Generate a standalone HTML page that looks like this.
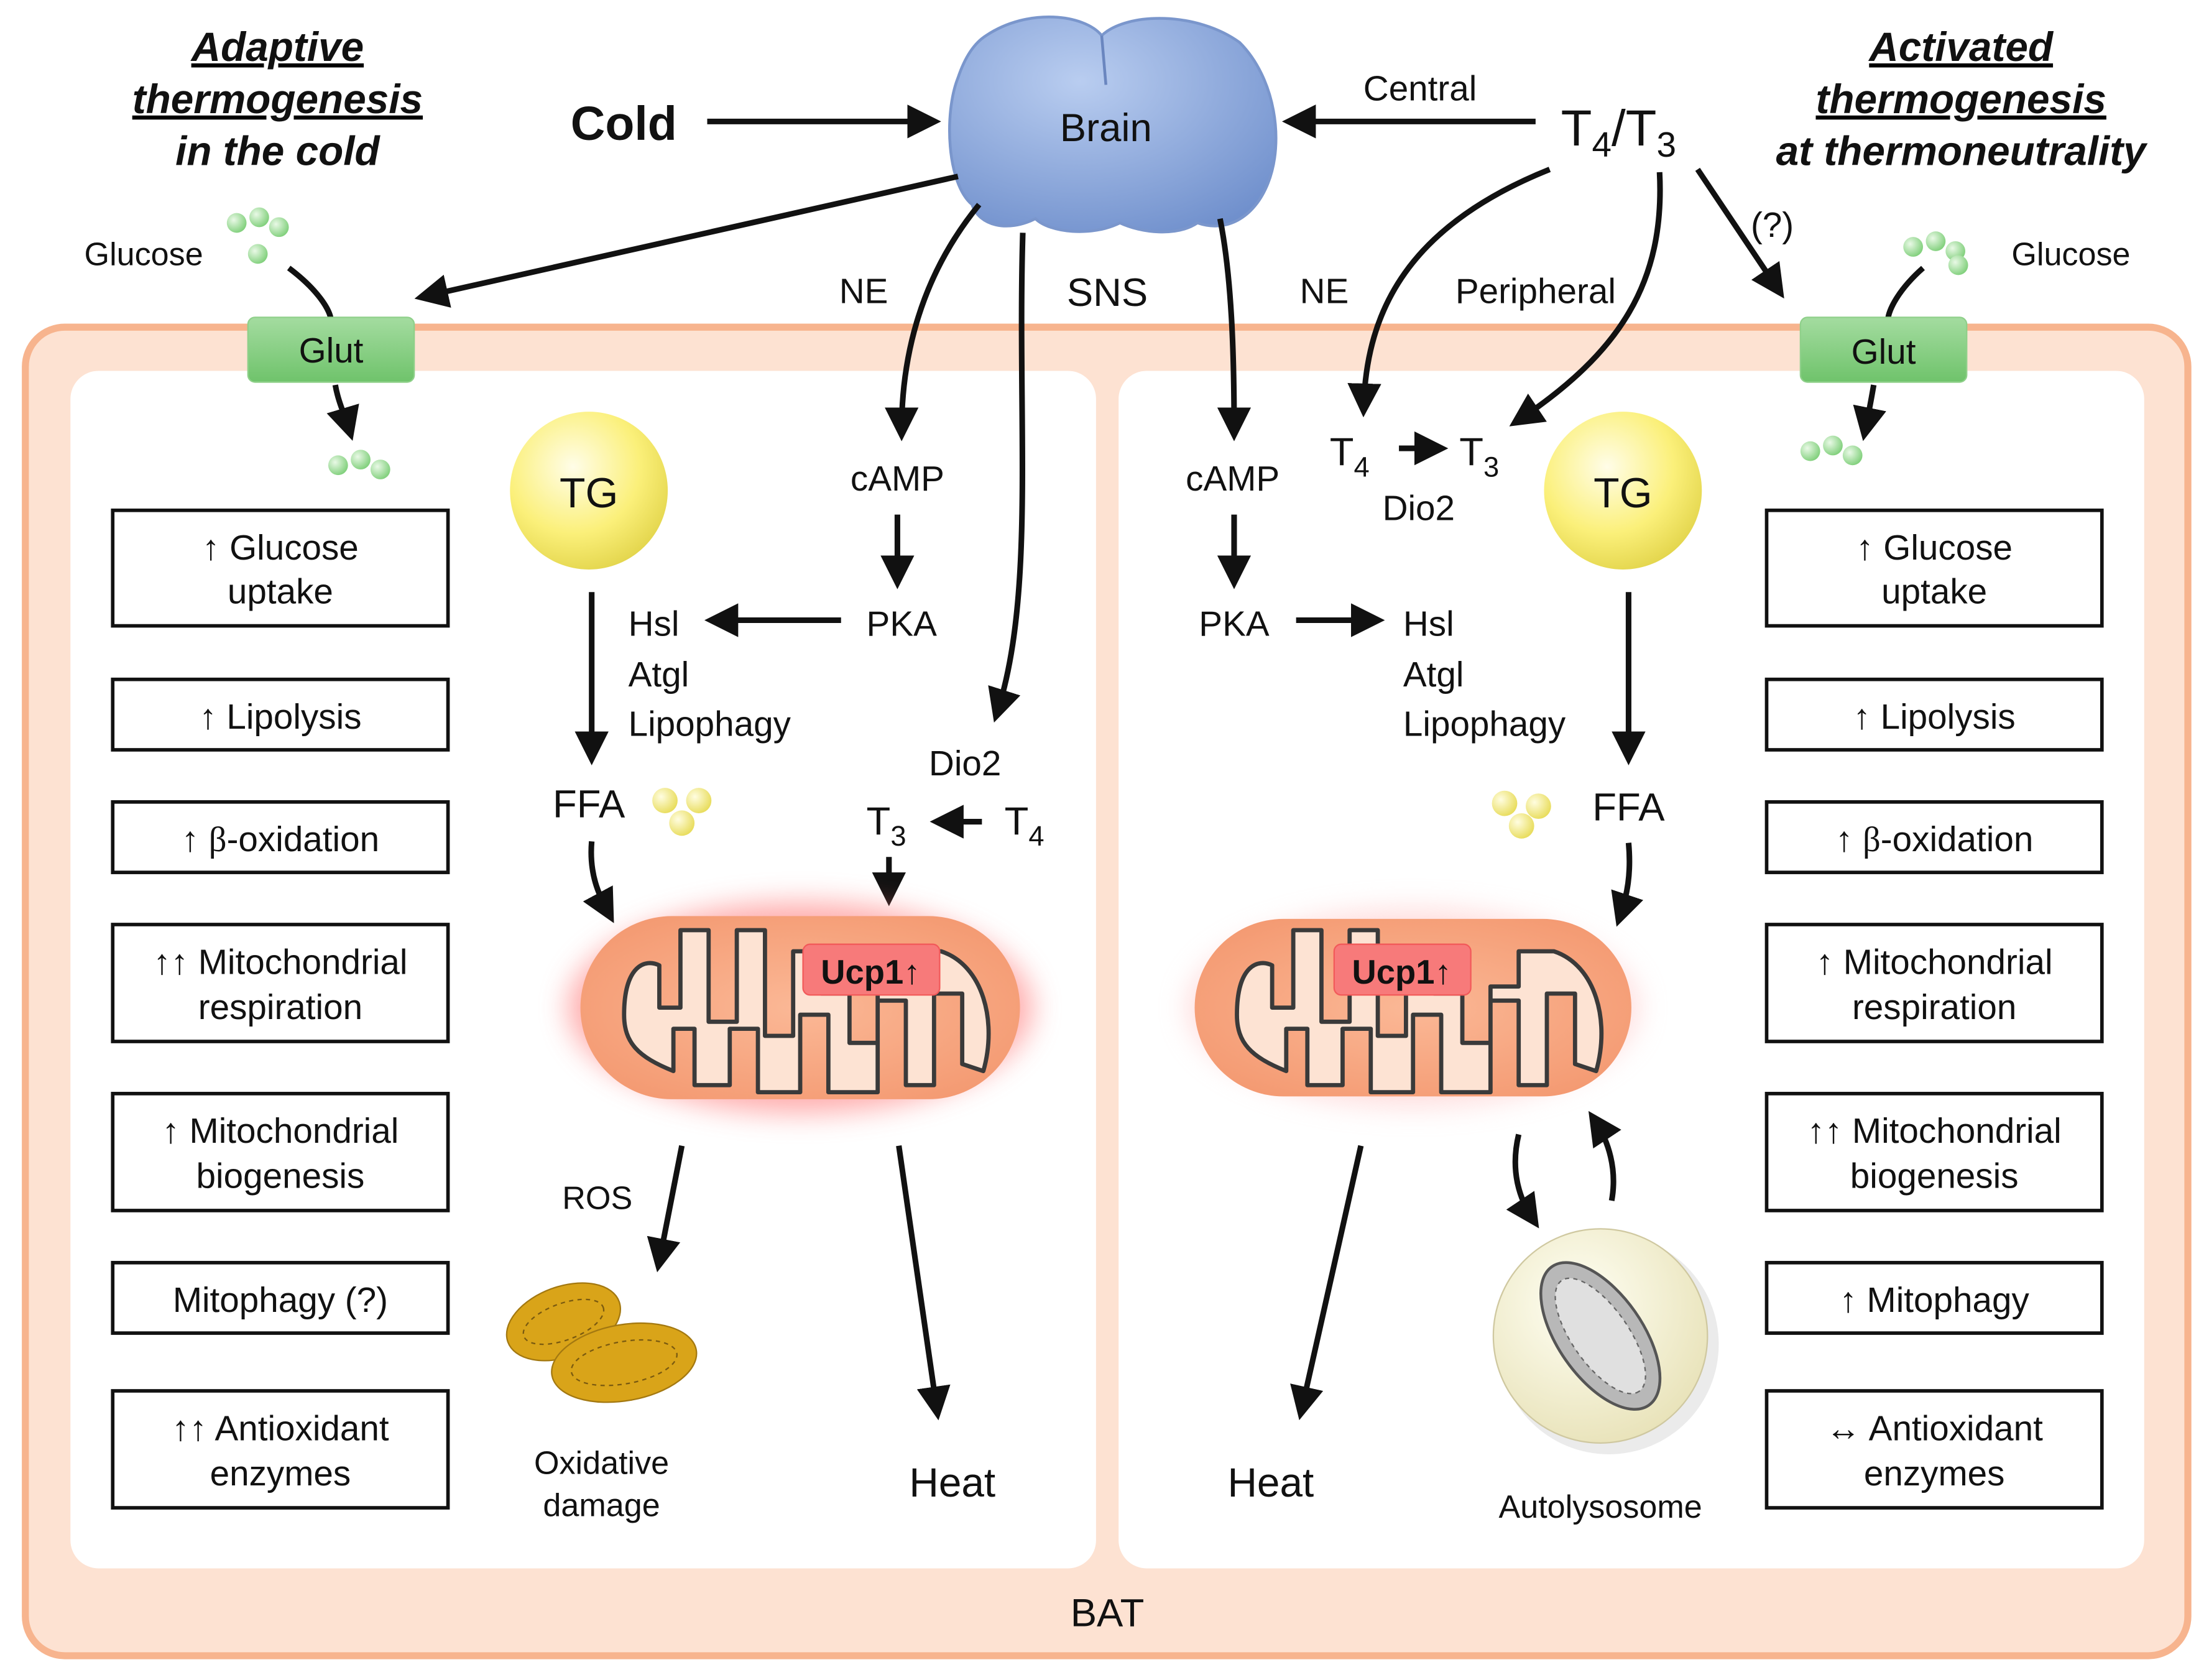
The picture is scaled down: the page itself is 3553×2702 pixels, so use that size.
<!DOCTYPE html>
<html><head><meta charset="utf-8">
<style>
html,body{margin:0;padding:0;background:#fff;}
svg{display:block;}
text{font-family:"Liberation Sans",sans-serif;fill:#111;}
</style></head>
<body>
<svg width="3553" height="2702" viewBox="0 0 1568 1192" xmlns="http://www.w3.org/2000/svg">
<defs>
<marker id="ah" markerWidth="6" markerHeight="6" refX="4" refY="3" orient="auto" markerUnits="strokeWidth">
<path d="M0,0 L6,3 L0,6 Z" fill="#111"/></marker>
<radialGradient id="tg" cx="0.4" cy="0.35" r="0.7"><stop offset="0" stop-color="#fffde8"/><stop offset="0.6" stop-color="#fbf07a"/><stop offset="1" stop-color="#e2d44a"/></radialGradient>
<radialGradient id="brain" cx="0.4" cy="0.3" r="0.8"><stop offset="0" stop-color="#b9cdf0"/><stop offset="1" stop-color="#6f8fcc"/></radialGradient>
<linearGradient id="glut" x1="0" y1="0" x2="0" y2="1"><stop offset="0" stop-color="#a4dca0"/><stop offset="1" stop-color="#6fc36b"/></linearGradient>
<radialGradient id="mito" cx="0.5" cy="0.5" r="0.6"><stop offset="0" stop-color="#fbb896"/><stop offset="1" stop-color="#f49a72"/></radialGradient>
<filter id="glow" x="-30%" y="-40%" width="160%" height="180%"><feGaussianBlur stdDeviation="10"/></filter>
<radialGradient id="bead" cx="0.35" cy="0.35" r="0.7"><stop offset="0" stop-color="#e9f9e6"/><stop offset="1" stop-color="#7fcf7a"/></radialGradient>
<radialGradient id="ybead" cx="0.35" cy="0.35" r="0.7"><stop offset="0" stop-color="#fffde0"/><stop offset="1" stop-color="#e8dc5a"/></radialGradient>
<radialGradient id="auto" cx="0.4" cy="0.35" r="0.7"><stop offset="0" stop-color="#fffff4"/><stop offset="1" stop-color="#e8e2b8"/></radialGradient>
<g id="mitoC">
<path d="M-125,5 C-125,-30 -110,-35 -100,-30 L-100,0 L-85,0 L-85,-55 L-65,-55 L-65,10 L-45,10 L-45,-55 L-25,-55 L-25,20 L-5,20 L-5,-40 L15,-40 L15,-10 L35,-10 L35,25 L55,25 L55,-15 L75,-15 L75,-40 L100,-40 C130,-30 140,10 130,45 L115,40 L115,-10 L95,-10 L95,55 L75,55 L75,-5 L55,-5 L55,60 L20,60 L20,5 L0,5 L0,60 L-30,60 L-30,15 L-50,15 L-50,55 L-75,55 L-75,15 L-90,15 L-90,45 C-115,35 -125,25 -125,5 Z" fill="#fde3d3" stroke="#3a3a3a" stroke-width="3" stroke-linejoin="round"/>
</g>
<g id="bead3"><circle cx="0" cy="0" r="7" fill="url(#bead)"/><circle cx="16" cy="-4" r="7" fill="url(#bead)"/><circle cx="30" cy="3" r="7" fill="url(#bead)"/></g>
</defs>

<!-- BAT container -->
<rect x="18" y="232" width="1535" height="943" rx="28" fill="#fde2d2" stroke="#f7b48e" stroke-width="5"/>
<rect x="50" y="263" width="728" height="850" rx="20" fill="#fff"/>
<rect x="794" y="263" width="728" height="850" rx="20" fill="#fff"/>
<text x="786" y="1154" font-size="28" text-anchor="middle">BAT</text>

<!-- titles -->
<g font-weight="bold" font-style="italic" font-size="29" text-anchor="middle" text-decoration="underline">
<text x="197" y="43">Adaptive</text>
<text x="197" y="80">thermogenesis</text>
<text x="1392" y="43">Activated</text>
<text x="1392" y="80">thermogenesis</text>
</g>
<g font-weight="bold" font-style="italic" font-size="29" text-anchor="middle">
<text x="197" y="117">in the cold</text>
<text x="1392" y="117">at thermoneutrality</text>
</g>
<line x1="86" y1="47" x2="308" y2="47" stroke="#111" stroke-width="0"/>

<!-- Brain -->
<path d="M700,25 C730,5 770,10 782,25 C800,8 850,8 880,30 C905,55 912,100 900,130 C890,155 870,165 850,158 C835,168 810,165 795,158 C775,168 745,165 735,155 C715,165 695,160 690,145 C672,130 670,80 680,55 C685,40 692,30 700,25 Z" fill="url(#brain)" stroke="#7a96cc" stroke-width="2"/>
<path d="M782,25 L785,60" stroke="#6a86bf" stroke-width="2" fill="none"/>
<text x="785" y="100" font-size="28" text-anchor="middle">Brain</text>

<text x="405" y="99" font-size="34" font-weight="bold">Cold</text>
<line x1="502" y1="86" x2="660" y2="86" stroke="#111" stroke-width="4" marker-end="url(#ah)"/>
<text x="1008" y="71" font-size="25" text-anchor="middle">Central</text>
<line x1="1090" y1="86" x2="918" y2="86" stroke="#111" stroke-width="4" marker-end="url(#ah)"/>
<text x="1108" y="103" font-size="36">T<tspan font-size="25" dy="8">4</tspan><tspan dy="-8">/T</tspan><tspan font-size="25" dy="8">3</tspan></text>

<!-- brain to glut left -->
<line x1="680" y1="125" x2="302" y2="210" stroke="#111" stroke-width="4" marker-end="url(#ah)"/>
<text x="102" y="188" font-size="23" text-anchor="middle">Glucose</text>
<use href="#bead3" x="168" y="158"/>
<circle cx="183" cy="180" r="7" fill="url(#bead)"/>
<path d="M205,190 C225,205 235,220 235,228" stroke="#111" stroke-width="4" fill="none"/>
<rect x="176" y="225" width="118" height="46" rx="5" fill="url(#glut)" stroke="#8fd08a"/>
<text x="235" y="257" font-size="25" text-anchor="middle">Glut</text>
<path d="M238,273 C240,285 245,295 248,305" stroke="#111" stroke-width="4" fill="none" marker-end="url(#ah)"/>
<use href="#bead3" x="240" y="330"/>

<!-- right glut -->
<line x1="1205" y1="120" x2="1262" y2="205" stroke="#111" stroke-width="4" marker-end="url(#ah)"/>
<text x="1258" y="168" font-size="25" text-anchor="middle">(?)</text>
<text x="1470" y="188" font-size="23" text-anchor="middle">Glucose</text>
<use href="#bead3" x="1358" y="175"/>
<circle cx="1390" cy="188" r="7" fill="url(#bead)"/>
<path d="M1365,190 C1348,205 1340,220 1340,228" stroke="#111" stroke-width="4" fill="none"/>
<rect x="1278" y="225" width="118" height="46" rx="5" fill="url(#glut)" stroke="#8fd08a"/>
<text x="1337" y="258" font-size="25" text-anchor="middle">Glut</text>
<path d="M1330,273 C1328,285 1326,295 1324,305" stroke="#111" stroke-width="4" fill="none" marker-end="url(#ah)"/>
<use href="#bead3" x="1285" y="320"/>

<!-- NE / SNS -->
<text x="613" y="215" font-size="25" text-anchor="middle">NE</text>
<text x="786" y="217" font-size="28" text-anchor="middle">SNS</text>
<text x="940" y="215" font-size="25" text-anchor="middle">NE</text>
<text x="1090" y="215" font-size="25" text-anchor="middle">Peripheral</text>
<path d="M695,145 C650,200 640,260 640,305" stroke="#111" stroke-width="4" fill="none" marker-end="url(#ah)"/>
<path d="M726,165 C722,300 735,420 708,505" stroke="#111" stroke-width="4" fill="none" marker-end="url(#ah)"/>
<path d="M866,155 C875,200 876,260 876,305" stroke="#111" stroke-width="4" fill="none" marker-end="url(#ah)"/>
<path d="M1100,120 C1000,160 970,220 968,288" stroke="#111" stroke-width="4" fill="none" marker-end="url(#ah)"/>
<path d="M1178,122 C1182,200 1150,250 1078,298" stroke="#111" stroke-width="4" fill="none" marker-end="url(#ah)"/>

<!-- left pathway -->
<circle cx="418" cy="348" r="56" fill="url(#tg)"/>
<text x="418" y="360" font-size="30" text-anchor="middle">TG</text>
<text x="637" y="348" font-size="25" text-anchor="middle">cAMP</text>
<line x1="637" y1="365" x2="637" y2="410" stroke="#111" stroke-width="4" marker-end="url(#ah)"/>
<text x="640" y="451" font-size="25" text-anchor="middle">PKA</text>
<line x1="597" y1="440" x2="508" y2="440" stroke="#111" stroke-width="4" marker-end="url(#ah)"/>
<text x="446" y="451" font-size="25">Hsl</text>
<text x="446" y="487" font-size="25">Atgl</text>
<text x="446" y="522" font-size="25">Lipophagy</text>
<line x1="420" y1="420" x2="420" y2="535" stroke="#111" stroke-width="4" marker-end="url(#ah)"/>
<text x="418" y="580" font-size="28" text-anchor="middle">FFA</text>
<g><circle cx="472" cy="568" r="9" fill="url(#ybead)"/><circle cx="496" cy="568" r="9" fill="url(#ybead)"/><circle cx="484" cy="584" r="9" fill="url(#ybead)"/></g>
<path d="M420,597 C418,620 425,635 432,648" stroke="#111" stroke-width="4" fill="none" marker-end="url(#ah)"/>
<text x="685" y="550" font-size="25" text-anchor="middle">Dio2</text>
<text x="615" y="592" font-size="28">T<tspan font-size="20" dy="8">3</tspan></text>
<line x1="697" y1="583" x2="668" y2="583" stroke="#111" stroke-width="4" marker-end="url(#ah)"/>
<text x="713" y="592" font-size="28">T<tspan font-size="20" dy="8">4</tspan></text>
<line x1="631" y1="608" x2="631" y2="635" stroke="#111" stroke-width="4" marker-end="url(#ah)"/>

<!-- left mito -->
<ellipse cx="568" cy="715" rx="165" ry="75" fill="#f77" opacity="0.6" filter="url(#glow)"/>
<rect x="412" y="650" width="312" height="130" rx="65" fill="url(#mito)"/>
<use href="#mitoC" x="568" y="715"/>
<rect x="570" y="670" width="97" height="36" rx="5" fill="#f77a7a" stroke="#f25a5a"/>
<text x="618" y="698" font-size="24" font-weight="bold" text-anchor="middle">Ucp1↑</text>

<text x="424" y="858" font-size="23" text-anchor="middle">ROS</text>
<line x1="484" y1="813" x2="468" y2="895" stroke="#111" stroke-width="4" marker-end="url(#ah)"/>
<line x1="638" y1="813" x2="665" y2="1000" stroke="#111" stroke-width="4" marker-end="url(#ah)"/>
<g>
<ellipse cx="400" cy="938" rx="42" ry="25" fill="#d9a419" stroke="#a37810" transform="rotate(-20 400 938)"/>
<ellipse cx="443" cy="967" rx="52" ry="27" fill="#d9a419" stroke="#a37810" transform="rotate(-10 443 967)"/>
<ellipse cx="400" cy="938" rx="30" ry="13" fill="none" stroke="#7a5a10" stroke-dasharray="3 3" transform="rotate(-20 400 938)"/>
<ellipse cx="443" cy="967" rx="38" ry="15" fill="none" stroke="#7a5a10" stroke-dasharray="3 3" transform="rotate(-10 443 967)"/>
</g>
<text x="427" y="1046" font-size="23" text-anchor="middle">Oxidative</text>
<text x="427" y="1076" font-size="23" text-anchor="middle">damage</text>
<text x="676" y="1062" font-size="29" text-anchor="middle">Heat</text>

<!-- right pathway -->
<text x="958" y="330" font-size="28" text-anchor="middle">T<tspan font-size="20" dy="8">4</tspan></text>
<line x1="993" y1="318" x2="1020" y2="318" stroke="#111" stroke-width="4" marker-end="url(#ah)"/>
<text x="1050" y="330" font-size="28" text-anchor="middle">T<tspan font-size="20" dy="8">3</tspan></text>
<text x="1007" y="369" font-size="25" text-anchor="middle">Dio2</text>
<text x="875" y="348" font-size="25" text-anchor="middle">cAMP</text>
<line x1="876" y1="365" x2="876" y2="410" stroke="#111" stroke-width="4" marker-end="url(#ah)"/>
<text x="876" y="451" font-size="25" text-anchor="middle">PKA</text>
<line x1="920" y1="440" x2="975" y2="440" stroke="#111" stroke-width="4" marker-end="url(#ah)"/>
<text x="996" y="451" font-size="25">Hsl</text>
<text x="996" y="487" font-size="25">Atgl</text>
<text x="996" y="522" font-size="25">Lipophagy</text>
<circle cx="1152" cy="348" r="56" fill="url(#tg)"/>
<text x="1152" y="360" font-size="30" text-anchor="middle">TG</text>
<line x1="1156" y1="420" x2="1156" y2="535" stroke="#111" stroke-width="4" marker-end="url(#ah)"/>
<text x="1156" y="582" font-size="28" text-anchor="middle">FFA</text>
<g><circle cx="1068" cy="570" r="9" fill="url(#ybead)"/><circle cx="1092" cy="572" r="9" fill="url(#ybead)"/><circle cx="1080" cy="586" r="9" fill="url(#ybead)"/></g>
<path d="M1156,598 C1158,620 1155,635 1150,650" stroke="#111" stroke-width="4" fill="none" marker-end="url(#ah)"/>

<ellipse cx="1003" cy="715" rx="160" ry="70" fill="#fbb" opacity="0.5" filter="url(#glow)"/>
<rect x="848" y="652" width="310" height="126" rx="63" fill="url(#mito)"/>
<use href="#mitoC" x="1003" y="715"/>
<rect x="947" y="670" width="97" height="36" rx="5" fill="#f77a7a" stroke="#f25a5a"/>
<text x="995" y="698" font-size="24" font-weight="bold" text-anchor="middle">Ucp1↑</text>

<line x1="966" y1="813" x2="924" y2="1000" stroke="#111" stroke-width="4" marker-end="url(#ah)"/>
<text x="902" y="1062" font-size="29" text-anchor="middle">Heat</text>
<path d="M1078,805 C1072,830 1078,850 1088,865" stroke="#111" stroke-width="4" fill="none" marker-end="url(#ah)"/>
<path d="M1144,852 C1148,830 1142,810 1132,795" stroke="#111" stroke-width="4" fill="none" marker-end="url(#ah)"/>
<circle cx="1138" cy="950" r="78" fill="#ddd" opacity="0.6" transform="translate(4 4)"/>
<circle cx="1136" cy="948" r="76" fill="url(#auto)" stroke="#cfc8a0"/>
<ellipse cx="1136" cy="948" rx="60" ry="30" fill="#b8b8b8" stroke="#555" stroke-width="2" transform="rotate(55 1136 948)"/>
<ellipse cx="1136" cy="948" rx="48" ry="20" fill="#e0e0e0" stroke="#666" stroke-dasharray="3 3" transform="rotate(55 1136 948)"/>
<text x="1136" y="1077" font-size="23" text-anchor="middle">Autolysosome</text>

<!-- left boxes -->
<g fill="#fff" stroke="#111" stroke-width="2.5">
<rect x="80" y="362" width="238" height="82"/><rect x="80" y="482" width="238" height="50"/>
<rect x="80" y="569" width="238" height="50"/><rect x="80" y="656" width="238" height="83"/>
<rect x="80" y="776" width="238" height="83"/><rect x="80" y="896" width="238" height="50"/>
<rect x="80" y="987" width="238" height="83"/>
<rect x="1254" y="362" width="238" height="82"/><rect x="1254" y="482" width="238" height="50"/>
<rect x="1254" y="569" width="238" height="50"/><rect x="1254" y="656" width="238" height="83"/>
<rect x="1254" y="776" width="238" height="83"/><rect x="1254" y="896" width="238" height="50"/>
<rect x="1254" y="987" width="238" height="83"/>
</g>
<g font-size="25" text-anchor="middle">
<text x="199" y="397">↑ Glucose</text><text x="199" y="428">uptake</text>
<text x="199" y="517">↑ Lipolysis</text>
<text x="199" y="604">↑ <tspan font-family="Liberation Serif">β</tspan>-oxidation</text>
<text x="199" y="691">↑↑ Mitochondrial</text><text x="199" y="723">respiration</text>
<text x="199" y="811">↑ Mitochondrial</text><text x="199" y="843">biogenesis</text>
<text x="199" y="931">Mitophagy (?)</text>
<text x="199" y="1022">↑↑ Antioxidant</text><text x="199" y="1054">enzymes</text>
<text x="1373" y="397">↑ Glucose</text><text x="1373" y="428">uptake</text>
<text x="1373" y="517">↑ Lipolysis</text>
<text x="1373" y="604">↑ <tspan font-family="Liberation Serif">β</tspan>-oxidation</text>
<text x="1373" y="691">↑ Mitochondrial</text><text x="1373" y="723">respiration</text>
<text x="1373" y="811">↑↑ Mitochondrial</text><text x="1373" y="843">biogenesis</text>
<text x="1373" y="931">↑ Mitophagy</text>
<text x="1373" y="1022">↔ Antioxidant</text><text x="1373" y="1054">enzymes</text>
</g>
</svg>
</body></html>
